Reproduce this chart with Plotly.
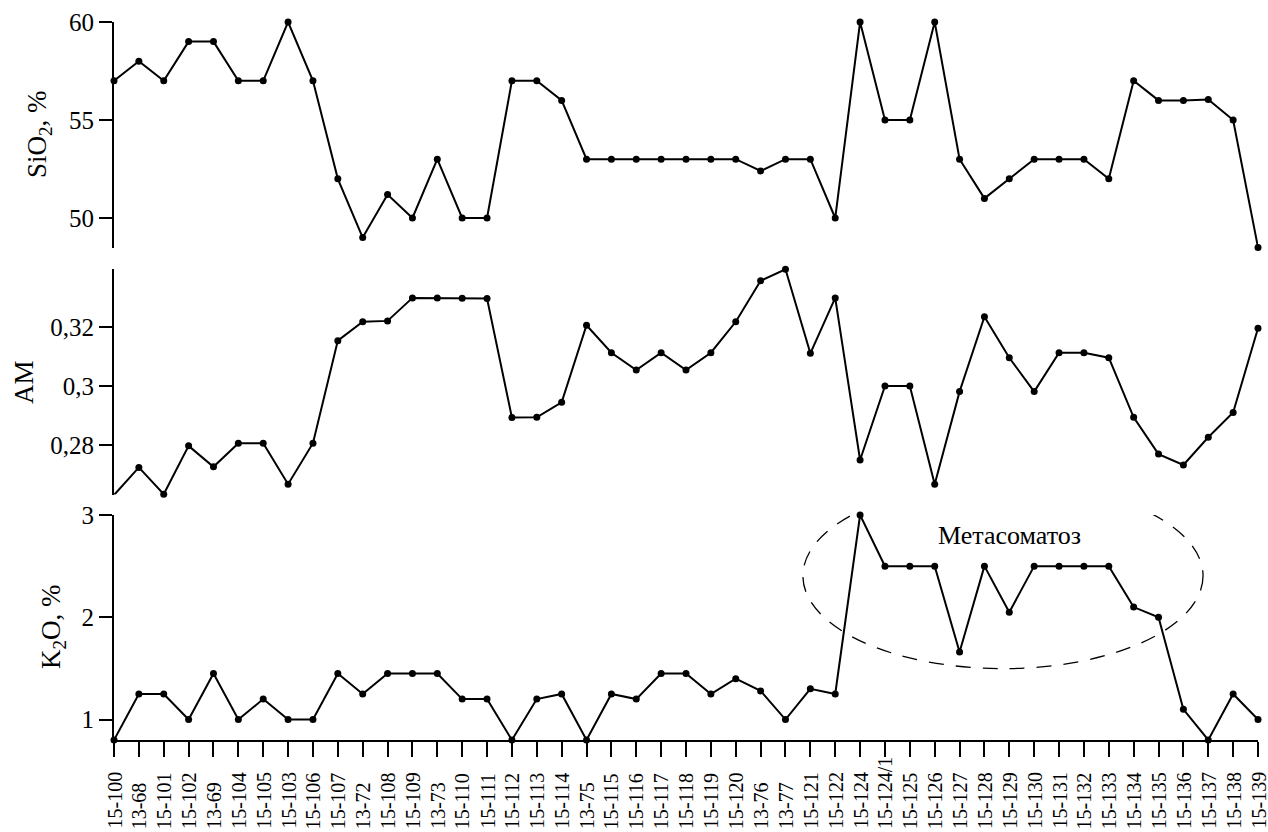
import plotly.graph_objects as go

samples = ["15-100", "13-68", "15-101", "15-102", "13-69", "15-104", "15-105", "15-103",
           "15-106", "15-107", "13-72", "15-108", "15-109", "13-73", "15-110", "15-111",
           "15-112", "15-113", "15-114", "13-75", "15-115", "15-116", "15-117", "15-118",
           "15-119", "15-120", "13-76", "13-77", "15-121", "15-122", "15-124", "15-124/1",
           "15-125", "15-126", "15-127", "15-128", "15-129", "15-130", "15-131", "15-132",
           "15-133", "15-134", "15-135", "15-136", "15-137", "15-138", "15-139"]

sio2 = [57, 58, 57, 59, 59, 57, 57, 60, 57, 52, 49, 51.2, 50,
        53, 50, 50, 57, 57, 56, 53, 53, 53, 53, 53, 53, 53, 52.4, 53, 53, 50,
        60, 55, 55, 60, 53, 51, 52, 53, 53, 53, 52, 57, 56, 56, 56.05, 55, 48.5]

am = [0.263, 0.2724, 0.2633, 0.2797, 0.2726, 0.2806, 0.2806, 0.2667, 0.2806, 0.3154, 0.3218, 0.3221, 0.3299,
      0.3299, 0.3298, 0.3297, 0.2893, 0.2894, 0.2945, 0.3206, 0.3113, 0.3054, 0.3113, 0.3054, 0.3113, 0.3218,
      0.3357, 0.3396, 0.3111, 0.3299,
      0.2749, 0.30, 0.30, 0.2667, 0.2981, 0.3235, 0.3096, 0.2981, 0.3113, 0.3113, 0.3096, 0.2894, 0.2769,
      0.2732, 0.2826, 0.2910, 0.3196]

k2o = [0.8, 1.25, 1.25, 1.0, 1.45, 1.0, 1.2, 1.0, 1.0, 1.45, 1.25, 1.45, 1.45,
       1.45, 1.2, 1.2, 0.8, 1.2, 1.25, 0.8, 1.25, 1.2, 1.45, 1.45, 1.25, 1.4, 1.28, 1.0, 1.3, 1.25,
       3.0, 2.5, 2.5, 2.5, 1.66, 2.5, 2.05, 2.5, 2.5, 2.5, 2.5, 2.1, 2.0, 1.1, 0.8, 1.25, 1.0]

sio2_ticks = [50, 55, 60]
am_ticks = [0.28, 0.30, 0.32]
am_ticktext = ["0,28", "0,3", "0,32"]
k2o_ticks = [1, 2, 3]

FONT = "Liberation Serif"
W, H = 1268, 832
ML, MR, MT, MB = 114, 10, 22, 92
PH = H - MT - MB


def dom(top_px, bot_px):
    return [(H - MB - bot_px) / PH, (H - MB - top_px) / PH]


fig = go.Figure()
line = dict(color="black", width=2)
marker = dict(color="black", size=7)
for yv, ya in [(sio2, "y"), (am, "y2"), (k2o, "y3")]:
    fig.add_trace(go.Scatter(x=list(range(len(samples))), y=yv, xaxis="x", yaxis=ya,
                             mode="lines+markers", line=line, marker=marker,
                             cliponaxis=False, showlegend=False))

yax_common = dict(showline=True, linecolor="black", linewidth=2, ticks="outside",
                  ticklen=13, tickwidth=2, tickcolor="black", showgrid=False,
                  zeroline=False, tickfont=dict(family=FONT, size=25, color="black"))

fig.update_layout(
    width=W, height=H,
    margin=dict(l=ML, r=MR, t=MT, b=MB),
    paper_bgcolor="white", plot_bgcolor="white",
    font=dict(family=FONT, color="black"),
    xaxis=dict(anchor="y3", range=[0, len(samples) - 1], tickmode="array",
               tickvals=list(range(len(samples))), showticklabels=False,
               showline=True, linecolor="black", linewidth=2, ticks="outside",
               ticklen=15, tickwidth=2, tickcolor="black", showgrid=False, zeroline=False),
    yaxis=dict(domain=dom(22, 248), range=[48.47, 60], tickvals=sio2_ticks, **yax_common),
    yaxis2=dict(domain=dom(269, 494.5), range=[0.2632, 0.3397], tickvals=am_ticks,
                ticktext=am_ticktext, **yax_common),
    yaxis3=dict(domain=dom(515, 740), range=[0.8, 3.0], tickvals=k2o_ticks, **yax_common),
)

# x tick labels (bottom-aligned, rotated)
for i, s in enumerate(samples):
    fig.add_annotation(x=i, xref="x", y=(H - MB - 831) / PH, yref="paper", text=s,
                       textangle=-90, showarrow=False, xanchor="center", yanchor="bottom",
                       font=dict(family=FONT, size=20, color="black"))


def px_x(p):
    return (p - ML) / (W - ML - MR)


def px_y(p):
    return (H - MB - p) / PH


# axis titles
for tx, cx, cy in [("SiO<sub>2</sub>, %", 39, 135), ("AM", 24, 382), ("K<sub>2</sub>O, %", 53, 627)]:
    fig.add_annotation(x=px_x(cx), y=px_y(cy), xref="paper", yref="paper", text=tx,
                       textangle=-90, showarrow=False, xanchor="center", yanchor="middle",
                       font=dict(family=FONT, size=27, color="black"))

# metasomatism ellipse
fig.add_shape(type="circle", xref="x", yref="y3", x0=27.7, x1=43.79, y0=1.498, y1=3.312,
              line=dict(color="black", width=1.3, dash="15px,12px"), layer="below")
fig.add_annotation(x=36.0, y=2.8, xref="x", yref="y3", text="Метасоматоз", showarrow=False,
                   font=dict(family=FONT, size=26, color="black"))

fig.write_html("out.html", config={"displayModeBar": False},
               post_script="document.body.style.margin='0';document.body.style.overflow='hidden';")
